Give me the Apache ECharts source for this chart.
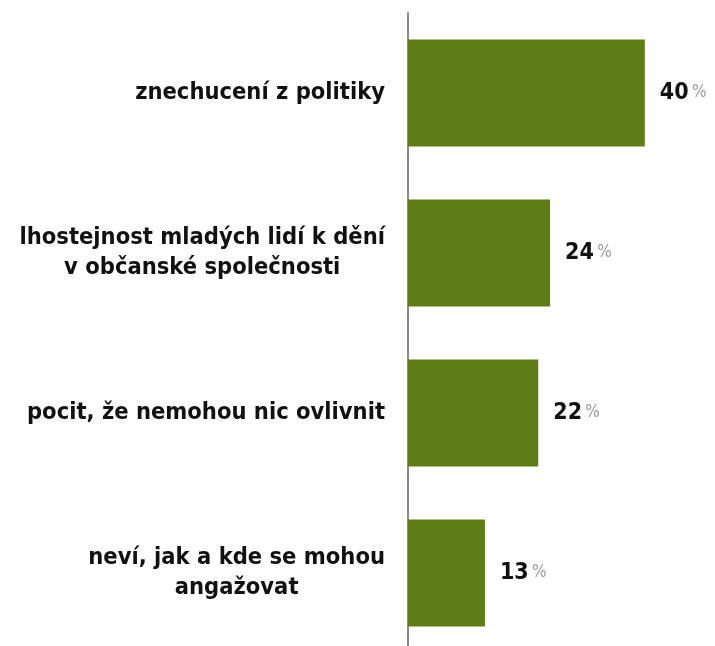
<!DOCTYPE html>
<html><head><meta charset="utf-8">
<script src="https://cdn.jsdelivr.net/npm/echarts@6/dist/echarts.min.js"></script>
<style>html,body{margin:0;padding:0;background:#fff}#c{width:715px;height:646px}</style>
</head><body><div id="c"></div>
<script>
const categories = [
  'znechucení z politiky',
  'lhostejnost mladých lidí k dění\nv občanské společnosti',
  'pocit, že nemohou nic ovlivnit',
  'neví, jak a kde se mohou\nangažovat'
];
const values = [40, 24, 22, 13];

const chart = echarts.init(document.getElementById('c'));
chart.setOption({
  animation: false,
  backgroundColor: '#ffffff',
  grid: { left: 408, width: 296, top: 13, height: 640, outerBoundsMode: 'none', containLabel: false },
  xAxis: { type: 'value', min: 0, max: 50, show: false },
  yAxis: {
    type: 'category', data: categories, inverse: true,
    axisLine: { show: true, lineStyle: { color: '#8a8a8a', width: 2 } },
    axisTick: { show: false },
    axisLabel: {
      margin: 23,
      align: 'right',
      formatter: function (v) {
        return v.split('\n').map(function (l) { return '{c|' + l + '}'; }).join('\n');
      },
      rich: {
        c: { align: 'center', fontFamily: 'DejaVu Sans Condensed', fontWeight: 'bold', fontSize: 23.5, color: '#111', lineHeight: 30 }
      }
    }
  },
  series: [{
    type: 'bar', data: values, barWidth: 107,
    itemStyle: { color: '#5f7d16' },
    label: {
      show: true, position: 'right', distance: 15,
      formatter: function (p) { return '{n|' + p.value + '} {p|%}'; },
      rich: {
        n: { fontFamily: 'DejaVu Sans Condensed', fontWeight: 'bold', fontSize: 23, color: '#111' },
        p: { fontFamily: 'DejaVu Sans Condensed', fontSize: 17, color: '#999' }
      }
    }
  }]
});
</script></body></html>
